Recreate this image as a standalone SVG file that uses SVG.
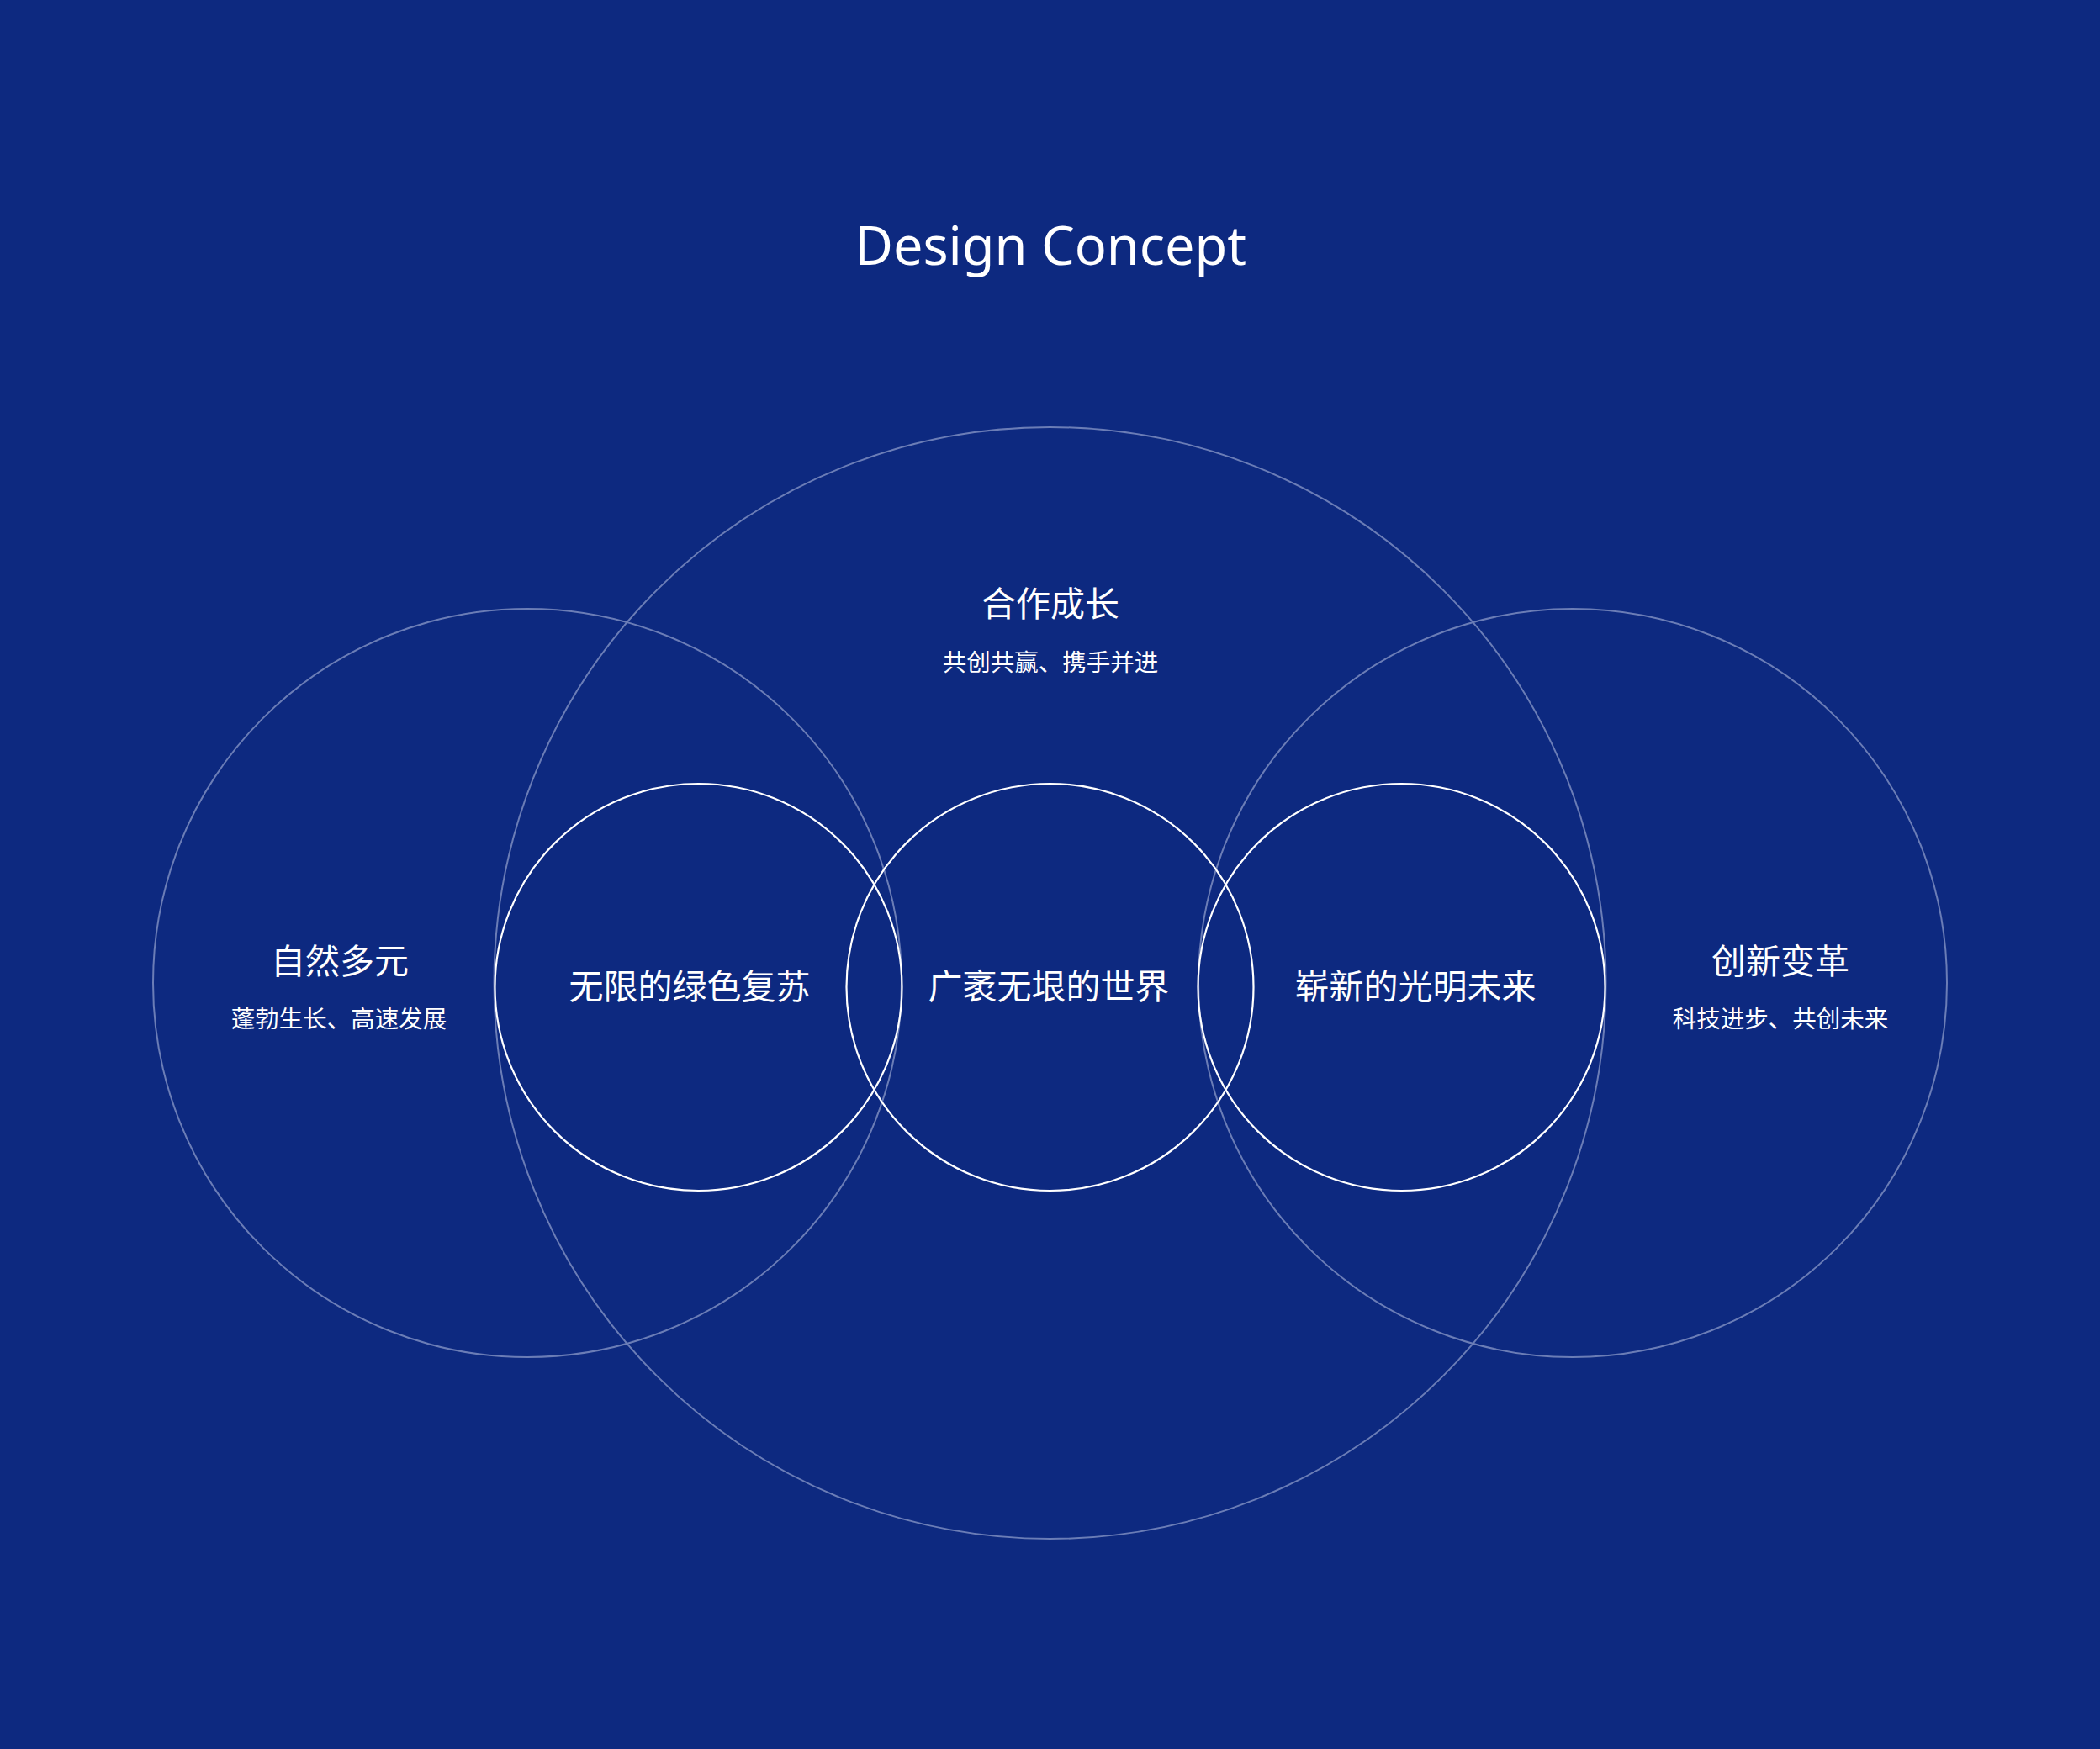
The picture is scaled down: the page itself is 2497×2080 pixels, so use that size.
<svg xmlns="http://www.w3.org/2000/svg" width="2497" height="2080" viewBox="0 0 2497 2080">
  <defs>
    <style>
      .outer { fill: none; stroke: #6b7db6; stroke-width: 2; }
      .inner { fill: none; stroke: #ffffff; stroke-width: 2.2; }
      .title { font-family: "Noto Sans", "Open Sans", sans-serif; font-size: 63px; fill: #ffffff; text-anchor: middle; }
      .label { font-family: "Noto Sans CJK SC", "Noto Sans", sans-serif; font-size: 41px; fill: #ffffff; text-anchor: middle; }
      .sub { font-family: "Noto Sans CJK SC", "Noto Sans", sans-serif; font-size: 28.5px; fill: #ffffff; text-anchor: middle; }
    </style>
  </defs>
  <rect x="0" y="0" width="2497" height="2080" fill="#0d2980"/>

  <g id="title">
    <text class="title" x="1249" y="315">Design Concept</text>
  </g>

  <g id="connectors"></g>

  <g id="node-cooperation">
    <circle class="outer" cx="1248.5" cy="1169" r="661"/>
    <text class="label" x="1249" y="733">合作成长</text>
    <text class="sub" x="1249" y="798">共创共赢、携手并进</text>
  </g>

  <g id="node-nature">
    <circle class="outer" cx="627" cy="1169" r="445"/>
    <text class="label" x="404" y="1158">自然多元</text>
    <text class="sub" x="403" y="1222">蓬勃生长、高速发展</text>
  </g>

  <g id="node-innovation">
    <circle class="outer" cx="1870" cy="1169" r="445"/>
    <text class="label" x="2117" y="1158">创新变革</text>
    <text class="sub" x="2117" y="1222">科技进步、共创未来</text>
  </g>

  <g id="node-green">
    <circle class="inner" cx="830.5" cy="1174" r="242"/>
    <text class="label" x="820" y="1188">无限的绿色复苏</text>
  </g>

  <g id="node-world">
    <circle class="inner" cx="1248.5" cy="1174" r="242"/>
    <text class="label" x="1247" y="1188">广袤无垠的世界</text>
  </g>

  <g id="node-future">
    <circle class="inner" cx="1666.5" cy="1174" r="242"/>
    <text class="label" x="1683" y="1188">崭新的光明未来</text>
  </g>
</svg>
